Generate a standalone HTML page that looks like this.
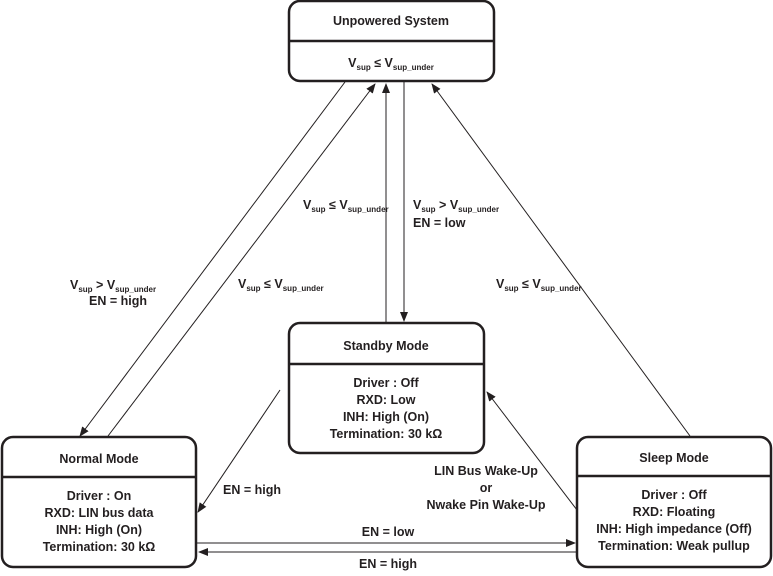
<!DOCTYPE html>
<html><head><style>
body{margin:0;background:#fff;}
svg text{font-family:"Liberation Sans",Arial,sans-serif;font-weight:bold;font-size:12.5px;fill:#231f20;}
</style></head><body>
<svg width="773" height="571" xmlns="http://www.w3.org/2000/svg">
<defs><marker id="a" markerWidth="10" markerHeight="8" refX="9" refY="4" orient="auto" markerUnits="userSpaceOnUse"><path d="M0,0 L10,4 L0,8 z" fill="#231f20"/></marker></defs>
<g fill="none" stroke="#231f20" stroke-width="2.5">
<rect x="289" y="1" width="205" height="80" rx="11"/><line x1="289" y1="41" x2="494" y2="41"/>
<rect x="289" y="323" width="195" height="130" rx="11"/><line x1="289" y1="364" x2="484" y2="364"/>
<rect x="2" y="437" width="194" height="130" rx="11"/><line x1="2" y1="477" x2="196" y2="477"/>
<rect x="577" y="437" width="194" height="130" rx="11"/><line x1="577" y1="476" x2="771" y2="476"/>
</g>
<g stroke="#231f20" stroke-width="1" fill="none" marker-end="url(#a)">
<line x1="345" y1="82" x2="80" y2="436"/>
<line x1="108" y1="436" x2="375" y2="84"/>
<line x1="386" y1="322" x2="386" y2="84"/>
<line x1="404" y1="82" x2="404" y2="321"/>
<line x1="690" y1="436" x2="432" y2="84"/>
<line x1="280" y1="390" x2="198" y2="512"/>
<line x1="577" y1="510" x2="487" y2="392"/>
<line x1="197" y1="543" x2="575" y2="543"/>
<line x1="577" y1="552" x2="199" y2="552"/>
</g>
<g text-anchor="middle">
<text x="391" y="25">Unpowered System</text>
<text x="391" y="67">V<tspan font-size="8" dy="3">sup</tspan><tspan dy="-3"> ≤ V</tspan><tspan font-size="8" dy="3">sup_under</tspan></text>
<text x="386" y="350">Standby Mode</text>
<text x="386" y="387">Driver : Off</text>
<text x="386" y="404">RXD: Low</text>
<text x="386" y="421">INH: High (On)</text>
<text x="386" y="438">Termination: 30 kΩ</text>
<text x="99" y="463">Normal Mode</text>
<text x="99" y="500">Driver : On</text>
<text x="99" y="517">RXD: LIN bus data</text>
<text x="99" y="534">INH: High (On)</text>
<text x="99" y="551">Termination: 30 kΩ</text>
<text x="674" y="462">Sleep Mode</text>
<text x="674" y="499">Driver : Off</text>
<text x="674" y="516">RXD: Floating</text>
<text x="674" y="533">INH: High impedance (Off)</text>
<text x="674" y="550">Termination: Weak pullup</text>
<text x="486" y="475">LIN Bus Wake-Up</text>
<text x="486" y="492">or</text>
<text x="486" y="509">Nwake Pin Wake-Up</text>
<text x="388" y="536">EN = low</text>
<text x="388" y="568">EN = high</text>
<text x="118" y="305">EN = high</text>
</g>
<text x="223" y="494">EN = high</text>
<text x="413" y="227">EN = low</text>
<text x="70" y="289">V<tspan font-size="8" dy="3">sup</tspan><tspan dy="-3"> &gt; V</tspan><tspan font-size="8" dy="3">sup_under</tspan></text>
<text x="238" y="288">V<tspan font-size="8" dy="3">sup</tspan><tspan dy="-3"> ≤ V</tspan><tspan font-size="8" dy="3">sup_under</tspan></text>
<text x="303" y="209">V<tspan font-size="8" dy="3">sup</tspan><tspan dy="-3"> ≤ V</tspan><tspan font-size="8" dy="3">sup_under</tspan></text>
<text x="413" y="209">V<tspan font-size="8" dy="3">sup</tspan><tspan dy="-3"> &gt; V</tspan><tspan font-size="8" dy="3">sup_under</tspan></text>
<text x="496" y="288">V<tspan font-size="8" dy="3">sup</tspan><tspan dy="-3"> ≤ V</tspan><tspan font-size="8" dy="3">sup_under</tspan></text>
</svg>
</body></html>
